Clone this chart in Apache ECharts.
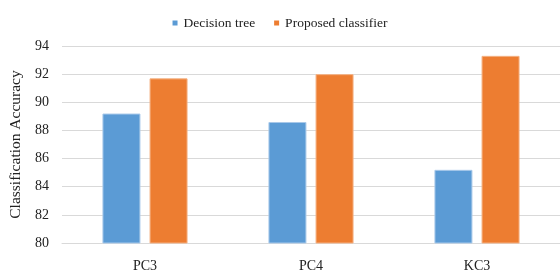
<!DOCTYPE html>
<html>
<head>
<meta charset="utf-8">
<script src="https://cdn.jsdelivr.net/npm/echarts@6/dist/echarts.min.js"></script>
<style>
html,body{margin:0;padding:0;background:#fff;}
#chart{width:560px;height:280px;}
</style>
</head>
<body>
<div id="chart"></div>
<script>
var categories = ['PC3', 'PC4', 'KC3'];
var seriesNames = ['Decision tree', 'Proposed classifier'];
var decisionTree = [89.2, 88.6, 85.2];
var proposed = [91.7, 92.0, 93.3];

var font = 'Liberation Serif';
var option = {
    color: ['#5b9bd5', '#ed7d31'],
    textStyle: { fontFamily: font },
    legend: {
        top: 11,
        left: 'center',
        itemWidth: 5,
        itemHeight: 5,
        itemGap: 19,
        icon: 'rect',
        itemStyle: { borderWidth: 0 },
        textStyle: { fontFamily: font, fontSize: 13.5, color: '#222', padding: [0, 0, 0, 1] },
        data: seriesNames
    },
    grid: {
        left: 62,
        right: 0,
        top: 46,
        bottom: 37,
        outerBoundsMode: 'none'
    },
    xAxis: {
        type: 'category',
        data: categories,
        axisLine: { lineStyle: { color: '#d9d9d9', width: 1 } },
        axisTick: { show: false },
        axisLabel: { fontFamily: font, fontSize: 14, color: '#222', margin: 16 }
    },
    yAxis: {
        type: 'value',
        min: 80,
        max: 94,
        interval: 2,
        name: 'Classification Accuracy',
        nameLocation: 'middle',
        nameGap: 37,
        nameTextStyle: { fontFamily: font, fontSize: 15.5, color: '#222' },
        axisLine: { show: false },
        axisTick: { show: false },
        splitLine: { lineStyle: { color: '#d9d9d9', width: 1 } },
        axisLabel: { fontFamily: font, fontSize: 14, color: '#222', margin: 13 }
    },
    series: [
        {
            name: seriesNames[0],
            type: 'bar',
            barWidth: 38,
            barGap: '24%',
            itemStyle: { borderColor: '#a9c9ea', borderWidth: 1 },
            data: decisionTree
        },
        {
            name: seriesNames[1],
            type: 'bar',
            barWidth: 38,
            itemStyle: { borderColor: '#f4b183', borderWidth: 1 },
            data: proposed
        }
    ]
};

var dom = document.getElementById('chart');
var myChart = echarts.init(dom);
myChart.setOption(option, true);
</script>
</body>
</html>
